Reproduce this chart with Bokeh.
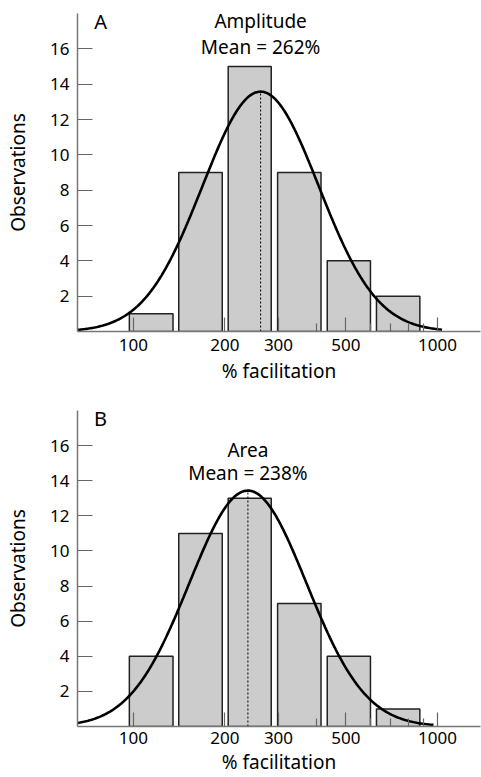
import numpy as np
from bokeh.plotting import figure
from bokeh.layouts import column
from bokeh.models import FixedTicker, CustomJSTickFormatter, Range1d
from bokeh.core.properties import value
from bokeh.embed import file_html
from bokeh.resources import INLINE

# ---- data ----
bin_lo = [97, 141, 205, 298, 434, 630]          # % facilitation, bin lower edges (bars drawn with gaps)
bin_hi = [135, 196, 284, 414, 602, 875]         # bin upper edges
counts_amp = [1, 9, 15, 9, 4, 2]                # Amplitude histogram
counts_area = [4, 11, 13, 7, 4, 1]              # Area histogram
mean_amp = 262
mean_area = 238
sd_log_amp = 0.191                               # SD of fitted log-normal (log10 units)
sd_log_area = 0.193
n_obs = 40
bin_width_log = 0.1625
curve_end_amp = 1035
curve_end_area = 970
x_major = [100, 200, 300, 500, 1000]
x_minor = [400, 600, 700, 800, 900]
y_ticks = [2, 4, 6, 8, 10, 12, 14, 16]

FONT = "Noto Sans"
X_START, X_END = 65.5, 1385


def panel(letter, title, mean, counts, sd, curve_end, height, top, bottom, ty1, ty2,
          tick_standoff, label_standoff):
    p = figure(width=481, height=height, x_axis_type="log",
               x_range=Range1d(X_START, X_END), y_range=Range1d(0, 18),
               output_backend="svg", toolbar_location=None,
               min_border_left=77, min_border_right=1,
               min_border_top=top, min_border_bottom=bottom)
    p.outline_line_color = None
    p.grid.grid_line_color = None
    p.background_fill_color = "white"

    # histogram bars
    p.quad(left=bin_lo, right=bin_hi, bottom=0, top=counts,
           fill_color="#cccccc", line_color="#222222", line_width=1.5)

    # fitted log-normal curve
    peak = n_obs * bin_width_log / (sd * np.sqrt(2 * np.pi))
    lx = np.linspace(np.log10(X_START), np.log10(curve_end), 300)
    cy = peak * np.exp(-(lx - np.log10(mean)) ** 2 / (2 * sd ** 2))
    p.line(10 ** lx, cy, line_color="black", line_width=2.6)

    # dashed mean line
    p.line([mean, mean], [0, peak], line_color="black", line_width=1, line_dash="2 2")

    # texts
    p.text(x=[78], y=[17.55], text=[letter], text_align="center", text_baseline="middle",
           text_font=value(FONT), text_font_size="20px", text_color="black")
    p.text(x=[mean, mean], y=[ty1, ty2], text=[title, "Mean = %d%%" % mean],
           text_align="center", text_baseline="middle",
           text_font=value(FONT), text_font_size="19px", text_color="black")

    # x axis
    xa = p.xaxis[0]
    xa.ticker = FixedTicker(ticks=x_major, minor_ticks=x_minor)
    xa.formatter = CustomJSTickFormatter(code="return tick.toFixed(0)")
    xa.major_tick_in = 14
    xa.major_tick_out = 0
    xa.minor_tick_in = 8
    xa.minor_tick_out = 0
    xa.axis_line_color = "#777777"
    xa.axis_line_width = 1.5
    xa.major_tick_line_color = "#666666"
    xa.minor_tick_line_color = "#666666"
    xa.major_tick_line_width = 1.2
    xa.minor_tick_line_width = 1.2
    xa.major_label_text_font = FONT
    xa.major_label_text_font_size = "17px"
    xa.major_label_text_color = "black"
    xa.major_label_standoff = tick_standoff
    xa.axis_label = "% facilitation"
    xa.axis_label_text_font = FONT
    xa.axis_label_text_font_size = "19px"
    xa.axis_label_text_font_style = "normal"
    xa.axis_label_text_color = "black"
    xa.axis_label_standoff = label_standoff

    # y axis
    ya = p.yaxis[0]
    ya.ticker = FixedTicker(ticks=y_ticks, minor_ticks=[])
    ya.major_tick_in = 15
    ya.major_tick_out = 0
    ya.minor_tick_in = 0
    ya.minor_tick_out = 0
    ya.axis_line_color = "#777777"
    ya.axis_line_width = 1.5
    ya.major_tick_line_color = "#666666"
    ya.major_tick_line_width = 1.2
    ya.major_label_text_font = FONT
    ya.major_label_text_font_size = "17px"
    ya.major_label_text_color = "black"
    ya.major_label_standoff = 8
    ya.axis_label = "Observations"
    ya.axis_label_text_font = FONT
    ya.axis_label_text_font_size = "19px"
    ya.axis_label_text_font_style = "normal"
    ya.axis_label_text_color = "black"
    ya.axis_label_standoff = 16
    return p


pA = panel("A", "Amplitude", mean_amp, counts_amp, sd_log_amp, curve_end_amp,
           height=390, top=13, bottom=59, ty1=17.57, ty2=16.1,
           tick_standoff=7, label_standoff=4)
pB = panel("B", "Area", mean_area, counts_area, sd_log_area, curve_end_area,
           height=387, top=20, bottom=51, ty1=15.77, ty2=14.46,
           tick_standoff=5, label_standoff=2)

layout = column(pA, pB, spacing=0)
open("out.html", "w").write(file_html(layout, INLINE))
